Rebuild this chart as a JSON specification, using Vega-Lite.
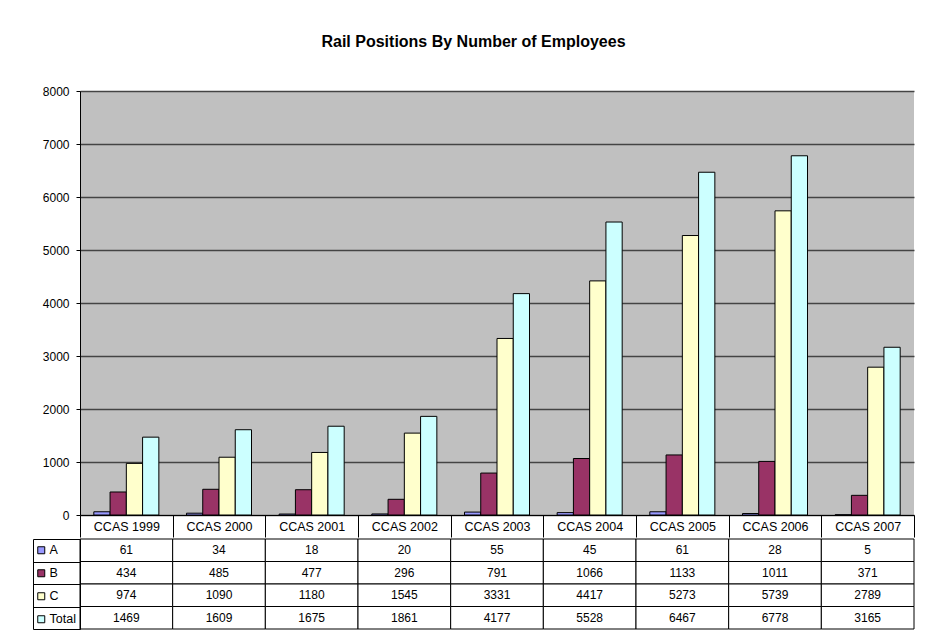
{
  "$schema": "https://vega.github.io/schema/vega-lite/v6.json",
  "padding": {"left": 32, "top": 34, "right": 22, "bottom": 16},
  "background": "white",
  "title": {"text": "Rail Positions By Number of Employees", "fontSize": 16, "font": "Liberation Sans", "fontWeight": "bold", "color": "black", "anchor": "middle", "offset": 35},
  "datasets": {
    "d": [
      {"year": "CCAS 1999", "series": "A", "value": 61},
      {"year": "CCAS 1999", "series": "B", "value": 434},
      {"year": "CCAS 1999", "series": "C", "value": 974},
      {"year": "CCAS 1999", "series": "Total", "value": 1469},
      {"year": "CCAS 2000", "series": "A", "value": 34},
      {"year": "CCAS 2000", "series": "B", "value": 485},
      {"year": "CCAS 2000", "series": "C", "value": 1090},
      {"year": "CCAS 2000", "series": "Total", "value": 1609},
      {"year": "CCAS 2001", "series": "A", "value": 18},
      {"year": "CCAS 2001", "series": "B", "value": 477},
      {"year": "CCAS 2001", "series": "C", "value": 1180},
      {"year": "CCAS 2001", "series": "Total", "value": 1675},
      {"year": "CCAS 2002", "series": "A", "value": 20},
      {"year": "CCAS 2002", "series": "B", "value": 296},
      {"year": "CCAS 2002", "series": "C", "value": 1545},
      {"year": "CCAS 2002", "series": "Total", "value": 1861},
      {"year": "CCAS 2003", "series": "A", "value": 55},
      {"year": "CCAS 2003", "series": "B", "value": 791},
      {"year": "CCAS 2003", "series": "C", "value": 3331},
      {"year": "CCAS 2003", "series": "Total", "value": 4177},
      {"year": "CCAS 2004", "series": "A", "value": 45},
      {"year": "CCAS 2004", "series": "B", "value": 1066},
      {"year": "CCAS 2004", "series": "C", "value": 4417},
      {"year": "CCAS 2004", "series": "Total", "value": 5528},
      {"year": "CCAS 2005", "series": "A", "value": 61},
      {"year": "CCAS 2005", "series": "B", "value": 1133},
      {"year": "CCAS 2005", "series": "C", "value": 5273},
      {"year": "CCAS 2005", "series": "Total", "value": 6467},
      {"year": "CCAS 2006", "series": "A", "value": 28},
      {"year": "CCAS 2006", "series": "B", "value": 1011},
      {"year": "CCAS 2006", "series": "C", "value": 5739},
      {"year": "CCAS 2006", "series": "Total", "value": 6778},
      {"year": "CCAS 2007", "series": "A", "value": 5},
      {"year": "CCAS 2007", "series": "B", "value": 371},
      {"year": "CCAS 2007", "series": "C", "value": 2789},
      {"year": "CCAS 2007", "series": "Total", "value": 3165}
    ]
  },
  "spacing": 0,
  "resolve": {"scale": {"color": "independent"}, "legend": {"color": "independent"}},
  "config": {"view": {"stroke": null}, "font": "Liberation Sans"},
  "vconcat": [
    {
      "width": 834,
      "height": 424,
      "data": {"name": "d"},
      "view": {"fill": "#C0C0C0", "stroke": null},
      "mark": {"type": "bar", "stroke": "black", "strokeWidth": 1},
      "encoding": {
        "x": {"field": "year", "type": "nominal", "sort": null, "scale": {"paddingInner": 0, "paddingOuter": 0},
          "axis": {"title": null, "labelAngle": 0, "tickBand": "extent", "tickSize": 22, "tickColor": "black", "domainColor": "black", "labelPadding": -17, "labelFontSize": 12.5, "labelColor": "black", "labelFont": "Liberation Sans"}},
        "xOffset": {"field": "series", "type": "nominal", "sort": ["A", "B", "C", "Total"], "scale": {"paddingInner": 0, "paddingOuter": 0.85}},
        "y": {"field": "value", "type": "quantitative", "scale": {"domain": [0, 8000]},
          "axis": {"title": null, "format": "d", "values": [0, 1000, 2000, 3000, 4000, 5000, 6000, 7000, 8000], "grid": true, "gridColor": "#444444", "gridWidth": 1.5, "tickSize": 4, "tickColor": "black", "domainColor": "black", "labelPadding": 7, "labelFontSize": 12, "labelColor": "black", "labelFont": "Liberation Sans"}},
        "color": {"field": "series", "type": "nominal", "sort": ["A", "B", "C", "Total"], "scale": {"domain": ["A", "B", "C", "Total"], "range": ["#9999FF", "#993366", "#FFFFCC", "#CCFFFF"]}, "legend": null}
      }
    },
    {
      "width": 834,
      "height": 90,
      "data": {"name": "d"},
      "encoding": {
        "x": {"field": "year", "type": "nominal", "sort": null, "scale": {"paddingInner": 0, "paddingOuter": 0}, "axis": null}
      },
      "layer": [
        {
          "mark": {"type": "rect"},
          "encoding": {
            "y": {"field": "series", "type": "nominal", "sort": ["A", "B", "C", "Total"], "scale": {"paddingInner": 0, "paddingOuter": 0},
              "axis": {"title": null, "orient": "left", "offset": 47, "labels": false, "ticks": false, "domainColor": "black"}},
            "color": {"field": "series", "type": "nominal", "scale": {"domain": ["A", "B", "C", "Total"], "range": ["#9999FF", "#993366", "#FFFFCC", "#CCFFFF"]},
              "legend": {"orient": "none", "legendX": -45, "legendY": 0, "direction": "vertical", "title": null, "symbolType": "square", "symbolSize": 49, "symbolStrokeColor": "black", "symbolStrokeWidth": 1, "labelFontSize": 12.5, "labelColor": "black", "labelFont": "Liberation Sans", "labelOffset": 2, "clipHeight": 22.5, "rowPadding": 0, "padding": 0}}
          }
        },
        {
          "mark": {"type": "rect", "fill": "white", "stroke": "black", "strokeWidth": 1},
          "encoding": {
            "y": {"field": "series", "type": "nominal", "sort": ["A", "B", "C", "Total"], "scale": {"paddingInner": 0, "paddingOuter": 0},
              "axis": {"title": null, "orient": "left", "labels": false, "tickBand": "extent", "tickSize": 47, "tickColor": "black", "domainColor": "black"}}
          }
        },
        {
          "mark": {"type": "text", "fontSize": 12, "color": "black", "font": "Liberation Sans"},
          "encoding": {
            "y": {"field": "series", "type": "nominal", "sort": ["A", "B", "C", "Total"], "axis": null},
            "text": {"field": "value", "type": "quantitative", "format": "d"}
          }
        }
      ],
      "resolve": {"axis": {"y": "independent"}}
    }
  ]
}
